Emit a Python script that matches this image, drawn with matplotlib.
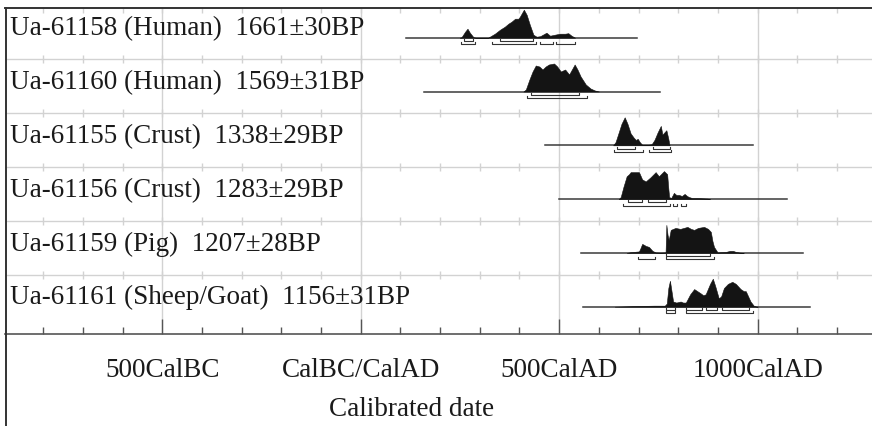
import numpy as np
import matplotlib.pyplot as plt
from matplotlib.lines import Line2D

plt.rcParams['font.family'] = ['Liberation Serif', 'DejaVu Serif']

# sample labels (top to bottom)
labels = ["Ua-61158 (Human)  1661\u00b130BP",
          "Ua-61160 (Human)  1569\u00b131BP",
          "Ua-61155 (Crust)  1338\u00b129BP",
          "Ua-61156 (Crust)  1283\u00b129BP",
          "Ua-61159 (Pig)  1207\u00b128BP",
          "Ua-61161 (Sheep/Goat)  1156\u00b131BP"]

# calibrated distributions, calendar year AD vs relative probability
yr_61158 = [250, 254, 263, 269, 275, 284, 290, 321, 338, 351, 363, 372, 380, 389, 397, 401, 411,
            418, 426, 435, 443, 452, 468, 477, 489, 502, 515, 523, 531, 540]
pr_61158 = [0, 0.5, 6, 9, 5, 0.5, 0, 0, 4, 8, 11, 14, 16, 19, 19, 21, 28,
            23, 13, 3, 1, 1.5, 5, 2, 3, 4, 4, 4.5, 2, 0]

yr_61160 = [410, 416, 425, 433, 441, 450, 458, 466, 474, 487, 495, 504, 515, 525, 532, 539,
            546, 554, 567, 579, 590, 600]
pr_61160 = [0, 2, 12, 20, 26, 25, 22, 25, 27, 28, 25, 20, 22, 17, 22, 27,
            22, 15, 7, 3, 1, 0]

yr_61155 = [636, 642, 650, 657, 665, 672, 680, 688, 693, 698, 703, 709, 715, 725, 733, 740,
            748, 756, 760, 765, 770, 775, 778]
pr_61155 = [0, 3, 12, 20, 26, 20, 11, 7, 5, 6, 3, 0.5, 0.5, 0.5, 1, 5,
            12, 18, 10, 12, 14, 6, 0]

yr_61156 = [650, 655, 662, 670, 676, 680, 690, 701, 709, 718, 730, 743, 751, 764, 772, 775,
            777, 782, 789, 795, 802, 809, 816, 822, 827, 835, 848, 873, 880]
pr_61156 = [0, 2, 12, 22, 24, 26, 26, 26, 19, 17, 21, 26, 22, 27, 24, 10,
            2, 1, 6, 4, 4, 3, 5, 3, 2, 1, 1, 0.5, 0]

yr_61159 = [670, 680, 701, 705, 709, 714, 718, 726, 735, 743, 755, 768, 770, 773, 776, 781,
            793, 805, 823, 832, 840, 850, 865, 875, 882, 886, 890, 899, 920, 930, 938, 945,
            955, 965]
pr_61159 = [0, 0.7, 1.5, 5, 9, 8, 7, 6, 2, 0.5, 0.3, 0.5, 28, 18, 13, 23,
            25, 24, 26, 24, 23, 25, 26, 24, 21, 12, 6, 0.5, 1, 2, 2, 1,
            0.3, 0]

yr_61161 = [640, 697, 740, 766, 771, 775, 779, 783, 787, 795, 806, 812, 819, 830, 840, 848,
            856, 863, 869, 880, 887, 893, 902, 908, 915, 925, 936, 945, 957, 965, 970, 976,
            982, 990, 995, 1000]
pr_61161 = [0, 0.7, 1, 1, 3, 18, 25, 15, 5, 4, 5, 4, 4, 12, 17, 15,
            13, 11, 12, 22, 27, 20, 8, 10, 18, 22, 24, 22, 17, 15, 15, 10,
            5, 1, 0.3, 0]

dist_years = [yr_61158, yr_61160, yr_61155, yr_61156, yr_61159, yr_61161]
dist_probs = [pr_61158, pr_61160, pr_61155, pr_61156, pr_61159, pr_61161]

# extent of the horizontal line under each distribution
line_ends = [(114, 695), (159, 754), (464, 989), (500, 1075), (554, 1115), (559, 1133)]

# 68.2% and 95.4% probability ranges
ranges_68 = [[(259, 282), (351, 433)],
             [(429, 551)],
             [(645, 691), (737, 779)],
             [(674, 709), (724, 770)],
             [(769, 880)],
             [(769, 791), (819, 861), (869, 898), (909, 979)]]
ranges_95 = [[(252, 287), (332, 441), (451, 484), (491, 541)],
             [(419, 571)],
             [(639, 710), (727, 781)],
             [(660, 779), (787, 796), (808, 819)],
             [(699, 741), (769, 890)],
             [(769, 791), (819, 989)]]

major_ticks = [-500, 0, 500, 1000]
major_labels = ["500CalBC", "CalBC/CalAD", "500CalAD", "1000CalAD"]
minor_ticks = np.arange(-800, 1201, 100)

W, H = 872, 426
fig = plt.figure(figsize=(W / 100, H / 100), dpi=100)
# y in pixel units from the top, so rows line up with the picture
top, axis_y = 8, 334
ax = fig.add_axes([5 / W, (H - axis_y) / H, (W - 5) / W, (axis_y - top) / H])
ax.set_xlim(-896, 1288)
ax.set_ylim(axis_y, top)

grid_c = '#d2d2d2'
ink = '#141414'

# light grid: vertical lines at the 500 yr marks, row separators with small ticks
ax.set_xticks(major_ticks)
ax.set_xticklabels(major_labels)
ax.set_xticks(minor_ticks, minor=True)
ax.xaxis.grid(True, which='major', color=grid_c, lw=1.0)
ax.set_axisbelow(True)
ax.set_yticks([])

row_h = 54
seps = [59.3 + row_h * k for k in range(5)]
for s in seps:
    ax.axhline(s, color=grid_c, lw=1.0, zorder=0)
    ax.vlines(minor_ticks, s - 4, s + 4, color=grid_c, lw=1.0, zorder=0)
ax.vlines(minor_ticks, top, top + 5, color=grid_c, lw=1.0, zorder=0)

xmin = ax.get_xlim()[0]
for i in range(len(labels)):
    base = 37.7 + 53.8 * i
    yrs = np.array(dist_years[i], dtype=float)
    pr = np.array(dist_probs[i], dtype=float)
    pr = pr / pr.max() * 28
    a, b = line_ends[i]
    ax.plot([a, b], [base, base], color='#3a3a3a', lw=1.1, zorder=2)
    ax.fill_between(yrs, base, base - pr, color=ink, lw=0.4, edgecolor=ink, zorder=3)
    for lo, hi in ranges_68[i]:
        ax.plot([lo, lo, hi, hi], [base + 1.2, base + 3.2, base + 3.2, base + 1.2],
                color='#333333', lw=0.8, zorder=3)
    for lo, hi in ranges_95[i]:
        ax.plot([lo, lo, hi, hi], [base + 4.5, base + 6.5, base + 6.5, base + 4.5],
                color='#333333', lw=0.8, zorder=3)
    ax.text(xmin + 13, base - 2.3, labels[i], fontsize=19.5, color='#1a1a1a',
            ha='left', va='baseline', zorder=4)

for side in ['right', 'left']:
    ax.spines[side].set_visible(False)
ax.spines['top'].set_color('#333333')
ax.spines['top'].set_linewidth(1.4)
ax.spines['bottom'].set_color('#555555')
ax.spines['bottom'].set_linewidth(1.2)

ax.tick_params(axis='x', which='major', direction='in', length=11, width=1.0,
               color='#555555', pad=17, labelsize=19.5, labelcolor='#1a1a1a')
ax.tick_params(axis='x', which='minor', direction='in', length=5, width=1.0,
               color='#555555')

ax.set_xlabel("Calibrated date", fontsize=19.5, color='#1a1a1a')
ax.xaxis.set_label_coords((412 - 5) / (W - 5), -(397 - axis_y) / (axis_y - top))

# left frame line runs down to the bottom of the picture
fig.add_artist(Line2D([5.5 / W, 5.5 / W], [0, (H - top) / H], color='#333333', lw=1.4))

fig.savefig("out.png", dpi=100)
